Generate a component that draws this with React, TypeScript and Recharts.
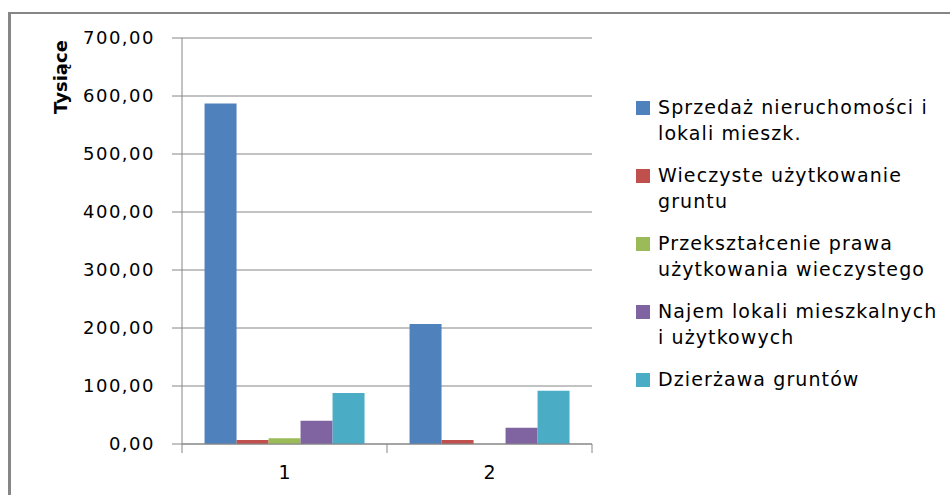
import React from "react";
import { BarChart, Bar, XAxis, YAxis, CartesianGrid, Label } from "recharts";

const categories = ["1", "2"];
const sprzedaz = [587, 207];
const wieczyste = [7, 7];
const przeksztalcenie = [10, 0];
const najem = [40, 28];
const dzierzawa = [88, 92];
const yTicks = [0, 100, 200, 300, 400, 500, 600, 700];

const seriesKeys = ["sprzedaz", "wieczyste", "przeksztalcenie", "najem", "dzierzawa"];
const seriesColors = ["#4F81BD", "#C0504D", "#9BBB59", "#8064A2", "#4BACC6"];
const seriesLabels = [
  ["Sprzedaż nieruchomości i", "lokali mieszk."],
  ["Wieczyste użytkowanie", "gruntu"],
  ["Przekształcenie prawa", "użytkowania wieczystego"],
  ["Najem lokali mieszkalnych", "i użytkowych"],
  ["Dzierżawa gruntów"],
];

const data = categories.map((c, i) => ({
  name: c,
  sprzedaz: sprzedaz[i],
  wieczyste: wieczyste[i],
  przeksztalcenie: przeksztalcenie[i],
  najem: najem[i],
  dzierzawa: dzierzawa[i],
}));

const FONT = "'DejaVu Sans', sans-serif";
const GRAY = "#868686";

const CHART_W = 950;
const CHART_H = 495;
const MARGIN = { top: 38, right: 358, left: 0, bottom: 0 };
const Y_AXIS_W = 182;
const X_TICK_MARGIN = 22;
const BAND = (CHART_W - MARGIN.left - MARGIN.right - Y_AXIS_W) / categories.length;

const fmt = (v: number) => v.toFixed(2).replace(".", ",");

function XTick(props: any) {
  const { x, y, payload, index } = props;
  const axisY = y - X_TICK_MARGIN;
  return (
    <g>
      <line x1={x - BAND / 2} x2={x - BAND / 2} y1={axisY} y2={axisY + 9} stroke={GRAY} />
      {index === categories.length - 1 && (
        <line x1={x + BAND / 2} x2={x + BAND / 2} y1={axisY} y2={axisY + 9} stroke={GRAY} />
      )}
      <text x={x} y={y} dy="0.71em" textAnchor="middle" fill="#000" fontFamily={FONT} fontSize={19}>
        {payload.value}
      </text>
    </g>
  );
}

function LegendBox() {
  return (
    <div style={{ fontFamily: FONT, fontSize: 19, letterSpacing: 1.1, color: "#000" }}>
      {seriesLabels.map((lines, i) => (
        <div key={i} style={{ display: "flex", alignItems: "flex-start", marginBottom: 16 }}>
          <div
            style={{
              width: 14,
              height: 14,
              background: seriesColors[i],
              marginTop: 7,
              marginRight: 8,
              flexShrink: 0,
            }}
          />
          <div style={{ lineHeight: "26px", whiteSpace: "nowrap" }}>
            {lines.map((l, j) => (
              <div key={j}>{l}</div>
            ))}
          </div>
        </div>
      ))}
    </div>
  );
}

export default function App() {
  return (
    <div style={{ position: "absolute", left: 0, top: 0, width: 950, height: 495, overflow: "hidden", background: "#fff" }}>
      <div
        style={{
          position: "absolute",
          left: 8,
          top: 12,
          width: 960,
          height: 500,
          borderTop: `2px solid ${GRAY}`,
          borderLeft: `3px solid ${GRAY}`,
        }}
      />
      <div style={{ position: "absolute", left: 0, top: 0 }}>
        <BarChart
          width={CHART_W}
          height={CHART_H}
          data={data}
          margin={MARGIN}
          barCategoryGap="11%"
          barGap={0}
        >
          <CartesianGrid vertical={false} stroke={GRAY} strokeWidth={1} />
          <XAxis
            dataKey="name"
            height={51}
            stroke={GRAY}
            tickLine={false}
            tickSize={0}
            tickMargin={X_TICK_MARGIN}
            interval={0}
            tick={<XTick />}
          />
          <YAxis
            width={Y_AXIS_W}
            domain={[0, 700]}
            ticks={yTicks}
            tickFormatter={fmt}
            stroke={GRAY}
            tickSize={10}
            tickMargin={17}
            tick={{ fill: "#000", fontFamily: FONT, fontSize: 18, letterSpacing: 1.5 }}
          >
            <Label
              content={() => (
                <text
                  x={67}
                  y={77}
                  transform="rotate(-90 67 77)"
                  textAnchor="middle"
                  fontFamily={FONT}
                  fontWeight="bold"
                  fontSize={18}
                  fill="#000"
                >
                  Tysiące
                </text>
              )}
            />
          </YAxis>
          {seriesKeys.map((k, i) => (
            <Bar key={k} dataKey={k} fill={seriesColors[i]} isAnimationActive={false} />
          ))}
        </BarChart>
      </div>
      <div style={{ position: "absolute", left: 636, top: 94 }}>
        <LegendBox />
      </div>
    </div>
  );
}
